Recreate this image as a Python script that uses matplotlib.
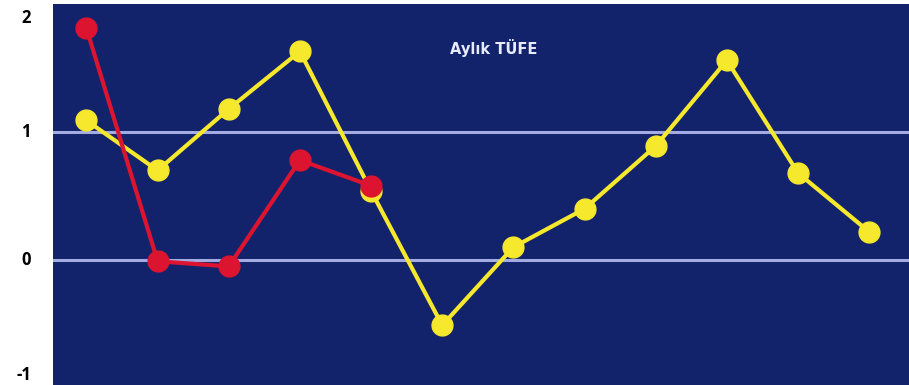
import matplotlib
matplotlib.use("Agg")
import matplotlib.pyplot as plt
import matplotlib.transforms as mtransforms

months = list(range(12))
yellow_vals = [1.09, 0.70, 1.18, 1.63, 0.54, -0.51, 0.10, 0.40, 0.89, 1.56, 0.68, 0.22]
red_vals = [1.81, -0.01, -0.05, 0.78, 0.58]
ytick_vals = [-1, 0, 1, 2]
ytick_labels = ["-1", "0", "1", "2"]
grid_vals = [0, 1]
title = "Aylık TÜFE"

NAVY = "#13236b"
YELLOW = "#f6e82c"
RED = "#dc1430"
GRID = "#a3abe0"

W, H = 909, 385
fig = plt.figure(figsize=(W / 100, H / 100), dpi=100)
fig.patch.set_facecolor("white")
ax = fig.add_axes([53 / W, -3 / H, (W - 53) / W, (388 - 4) / H])
ax.set_facecolor(NAVY)
ax.set_xlim(-0.47, 11.56)
ax.set_ylim(-1, 2)
for s in ax.spines.values():
    s.set_visible(False)
ax.set_xticks([])
ax.set_yticks([])

for g in grid_vals:
    ax.axhline(g, color=GRID, lw=2.2, zorder=1)

ax.plot(months, yellow_vals, color=YELLOW, lw=3, marker="o", ms=15,
        markerfacecolor=YELLOW, markeredgecolor=YELLOW, zorder=3)
ax.plot(months[:len(red_vals)], red_vals, color=RED, lw=3, marker="o", ms=15,
        markerfacecolor=RED, markeredgecolor=RED, zorder=4)

ax.text(0.515, 0.885, title, transform=ax.transAxes, color="#e8ebff",
        fontsize=10.5, fontweight="bold", ha="center", va="center",
        family="DejaVu Sans")

trans = mtransforms.blended_transform_factory(fig.transFigure, ax.transData)
for v, lab in zip(ytick_vals, ytick_labels):
    off_px = 0
    if v == max(ytick_vals):
        off_px = -14
    elif v == min(ytick_vals):
        off_px = 13
    t = trans + mtransforms.ScaledTranslation(0, off_px / 100, fig.dpi_scale_trans)
    ax.text(31 / W, v, lab, transform=t, ha="right", va="center",
            fontsize=12, fontweight="bold", color="black", family="Open Sans",
            clip_on=False)

fig.savefig("out.png", dpi=100, facecolor="white")
